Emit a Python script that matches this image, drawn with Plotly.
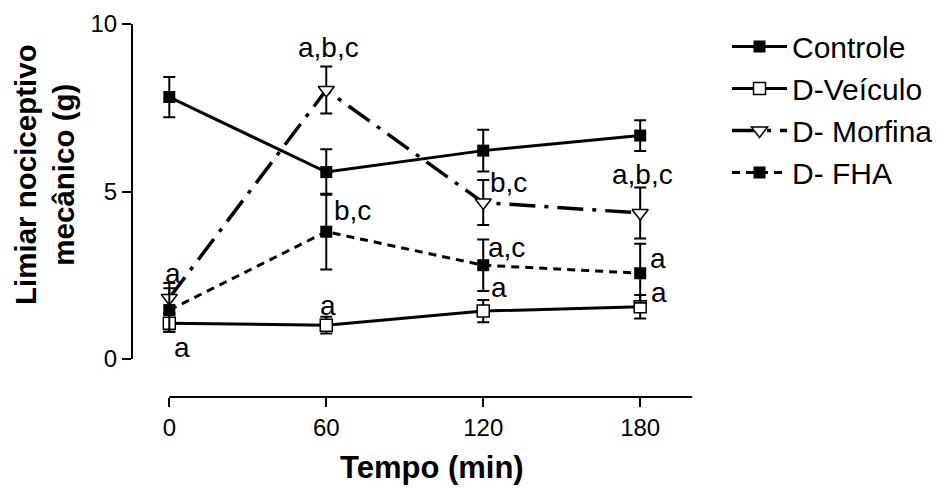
import plotly.graph_objects as go

# Time points (min)
tempo = [0, 60, 120, 180]

# Mean mechanical nociceptive threshold (g) and SEM per group
controle = [7.82, 5.58, 6.22, 6.67]
controle_err = [0.60, 0.68, 0.62, 0.46]

veiculo = [1.07, 1.01, 1.43, 1.56]
veiculo_err = [0.26, 0.25, 0.33, 0.35]

morfina = [1.82, 8.03, 4.67, 4.36]
morfina_err = [0.45, 0.70, 0.67, 0.76]

fha = [1.46, 3.80, 2.80, 2.56]
fha_err = [0.65, 1.13, 0.77, 0.88]

# Significance letters: (text, x, y, xanchor)
letras = [
    ("a,b,c", 61.0, 9.30, "center"),
    ("b,c", 62.3, 4.43, "left"),
    ("a", 60.8, 1.60, "center"),
    ("b,c", 121.7, 5.27, "left"),
    ("a,c", 120.9, 3.33, "left"),
    ("a", 122.4, 2.13, "left"),
    ("a,b,c", 180.7, 5.52, "center"),
    ("a", 183.0, 2.99, "left"),
    ("a", 183.3, 1.99, "left"),
    ("a", 1.4, 2.54, "center"),
    ("a", -7.8, 1.39, "center"),
    ("a", 4.9, 0.34, "center"),
]

xticks = [0, 60, 120, 180]
yticks = [0, 5, 10]

FONT = "Liberation Sans, Arial, sans-serif"
W, H = 943, 488

# Pixel layout of the axes
X0_PX, X200_PX = 169.3, 692.5
XMIN = -6
px_per_min = (X200_PX - X0_PX) / 200.0
xdom = [(X0_PX + XMIN * px_per_min) / W, X200_PX / W]
ydom = [(H - 359) / H, (H - 24) / H]
xline_pos = (H - 397) / H
yline_pos = 132 / W


def err(v):
    return dict(type="data", array=v, visible=True, color="black",
                thickness=2, width=6)


fig = go.Figure()

fig.add_trace(go.Scatter(
    x=tempo, y=controle, error_y=err(controle_err), name="Controle",
    mode="lines+markers", legendgroup="c",
    line=dict(color="black", width=3),
    marker=dict(symbol="square", size=12, color="black"),
    cliponaxis=False))

fig.add_trace(go.Scatter(
    x=tempo, y=veiculo, error_y=err(veiculo_err), name="D-Veículo",
    mode="lines+markers", legendgroup="v",
    line=dict(color="black", width=3),
    marker=dict(symbol="square", size=12, color="white",
                line=dict(color="black", width=1.5)),
    cliponaxis=False))

fig.add_trace(go.Scatter(
    x=tempo, y=morfina, error_y=err(morfina_err), name="D- Morfina",
    mode="lines+markers", legendgroup="m",
    line=dict(color="black", width=3.5, dash="26px,9px,4px,9px"),
    marker=dict(symbol="triangle-down", size=14, color="white",
                line=dict(color="black", width=1.5)),
    cliponaxis=False))

fig.add_trace(go.Scatter(
    x=tempo, y=fha, error_y=err(fha_err), name="D- FHA",
    mode="lines+markers", legendgroup="f",
    line=dict(color="black", width=3, dash="8px,6px"),
    marker=dict(symbol="square", size=12, color="black"),
    cliponaxis=False))

for txt, x, y, xa in letras:
    fig.add_annotation(x=x, y=y, xref="x", yref="y", text=txt,
                       showarrow=False, xanchor=xa, yanchor="middle",
                       font=dict(family=FONT, size=28, color="black"))

# X axis line spans 0-200 only
fig.add_shape(type="line", xref="x", yref="paper", x0=0, x1=200,
              y0=xline_pos, y1=xline_pos,
              line=dict(color="black", width=2))

fig.add_annotation(text="<b>Tempo (min)</b>", xref="paper", yref="paper",
                   x=432 / W, y=(H - 467) / H, showarrow=False,
                   xanchor="center", yanchor="middle",
                   font=dict(family=FONT, size=31, color="black"))

fig.add_annotation(text="<b>Limiar nociceptivo<br>mecânico (g)</b>",
                   xref="paper", yref="paper", x=44 / W, y=(H - 175) / H,
                   textangle=-90, showarrow=False,
                   xanchor="center", yanchor="middle",
                   font=dict(family=FONT, size=29.5, color="black"))

fig.update_layout(
    width=W, height=H,
    margin=dict(l=0, r=0, t=0, b=0),
    paper_bgcolor="white", plot_bgcolor="white",
    font=dict(family=FONT, size=24, color="black"),
    showlegend=True,
    legend=dict(x=727 / W, y=(H - 20.5) / H, xanchor="left", yanchor="top",
                font=dict(family=FONT, size=30, color="black"),
                tracegroupgap=0, bgcolor="rgba(0,0,0,0)",
                itemwidth=55),
    xaxis=dict(range=[XMIN, 200], domain=xdom, anchor="free",
               position=xline_pos, showline=False, showgrid=False,
               zeroline=False, tickmode="array", tickvals=xticks,
               ticks="outside", ticklen=9, tickwidth=2, tickcolor="black",
               tickfont=dict(family=FONT, size=24, color="black"),
               automargin=False),
    yaxis=dict(range=[0, 10], domain=ydom, anchor="free",
               position=yline_pos, showline=True, linecolor="black",
               linewidth=2, showgrid=False, zeroline=False,
               tickmode="array", tickvals=yticks, ticks="outside",
               ticklen=9, tickwidth=2, tickcolor="black",
               tickfont=dict(family=FONT, size=24, color="black"),
               automargin=False),
)

fig.write_html("out.html")
